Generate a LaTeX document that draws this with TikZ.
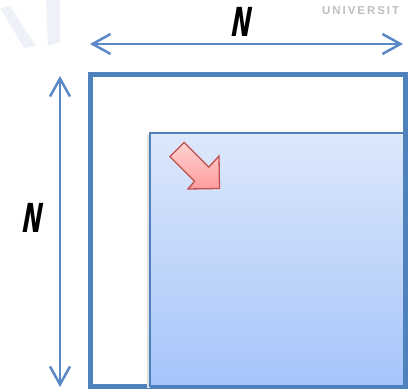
\documentclass[tikz,border=0pt]{standalone}
\usepackage{fontspec}
\setmainfont{Liberation Sans}
\newfontfamily\dimfont{DejaVu Sans Condensed}
\usetikzlibrary{arrows.meta}
\definecolor{frameblue}{HTML}{4F81BD}
\definecolor{linkblue}{HTML}{5A88C6}
\definecolor{fillTop}{HTML}{DDE8FB}
\definecolor{fillBot}{HTML}{A6C4FA}
\definecolor{redEdge}{HTML}{C0504D}
\definecolor{redTop}{HTML}{FFD2D2}
\definecolor{redBot}{HTML}{FF9C9C}
\definecolor{wmark}{HTML}{EEF2F8}
\tikzset{
  dimarrow/.style={draw=linkblue, line width=2.5pt,
    {Straight Barb[length=18pt,width=20pt,line width=2.5pt]}-{Straight Barb[length=18pt,width=20pt,line width=2.5pt]}},
  dimlabel/.style={font=\dimfont\fontsize{40}{40}\selectfont\bfseries\itshape, xscale=0.66, xslant=0.1, inner sep=0pt, text=black},
  outerbox/.style={draw=frameblue, line width=5pt},
  innerbox/.style={draw=frameblue, line width=2.8pt, top color=fillTop, bottom color=fillBot},
  pointer/.style={draw=redEdge, line width=1.3pt, line join=miter, top color=redTop, bottom color=redBot},
}
\begin{document}
\begin{tikzpicture}[x=1pt,y=-1pt]
\useasboundingbox (0,0) rectangle (408,390);
% faint watermark logo
\fill[wmark] (0,8) -- (10,6) -- (36,46) -- (24,48) -- cycle;
\fill[wmark] (46,0) -- (60,0) -- (60,42) -- (48,46) -- cycle;
% university text
\node[anchor=west, inner sep=0pt, text=gray!50, font=\fontsize{11.5}{11.5}\selectfont\bfseries\addfontfeature{LetterSpace=17}] (uni) at (322,11) {UNIVERSIT};
% outer square
\draw[outerbox] (90,75) rectangle (405,387);
% inner rectangle with soft shadow
\fill[black!12] (147,135) rectangle (150,388);
\draw[innerbox] (150,133) rectangle (404,386);
% red pointer arrow
\draw[pointer] (184.1,142.4) -- (169.9,156.6) -- (194.6,181.3) -- (188,189) -- (219.5,188.5) -- (219,156) -- (208.8,167.1) -- cycle;
% dimension arrows
\coordinate (hl) at (90,44);
\coordinate (hr) at (403,44);
\coordinate (vt) at (60,76);
\coordinate (vb) at (60,387);
\draw[dimarrow] (hl) -- (hr);
\draw[dimarrow] (vt) -- (vb);
\node[dimlabel] (ntop) at (242,22) {N};
\node[dimlabel] (nleft) at (33,218) {N};
\end{tikzpicture}
\end{document}
